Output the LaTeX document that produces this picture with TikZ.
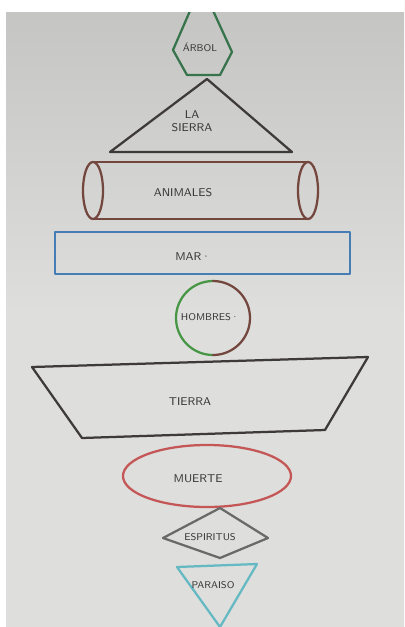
\documentclass[tikz,border=0pt]{standalone}
\usepackage{tikz}
\usepackage{xcolor}

\definecolor{paperdark}{RGB}{196,196,194}
\definecolor{paperlight}{RGB}{222,222,220}
\definecolor{pengreen}{RGB}{55,115,75}
\definecolor{pencircle}{RGB}{70,150,70}
\definecolor{penbrown}{RGB}{115,70,62}
\definecolor{penblue}{RGB}{70,125,180}
\definecolor{penred}{RGB}{196,86,86}
\definecolor{pengray}{RGB}{105,105,105}
\definecolor{pendark}{RGB}{62,58,58}
\definecolor{penteal}{RGB}{100,185,195}
\definecolor{pencil}{RGB}{55,55,55}

\tikzset{
	marker/.style={line width=1.6pt, line join=round, line cap=round},
	word/.style={font=\sffamily\footnotesize, text=pencil, inner sep=1pt},
	smallword/.style={word, font=\sffamily\scriptsize}
}

\begin{document}
\begin{tikzpicture}[x=0.025cm, y=-0.025cm]
	\useasboundingbox (0,0) rectangle (404,627);
	\shade [top color=paperdark, bottom color=paperlight, middle color=paperlight] (0,0) rectangle (404,627);
	
	% arbol
	\draw [marker, pengreen] (173,50) -- (193,4) -- (210,4) -- (232,52) -- (220,75) -- (187,75) -- cycle;
	\fill [white] (0,0) rectangle (404,12);
	\fill [white] (0,0) rectangle (6,627);
	
	% la sierra
	\draw [marker, pendark] (207,79) -- (292,152) -- (110,152) -- cycle;
	
	% animales
	\draw [marker, penbrown] (93,162) -- (308,162);
	\draw [marker, penbrown] (93,219) -- (308,219);
	\draw [marker, penbrown] (93,190.5) ellipse [x radius=10, y radius=28.5];
	\draw [marker, penbrown] (308,190.5) ellipse [x radius=10, y radius=28.5];
	
	% mar
	\draw [marker, penblue] (55,232) rectangle (350,274);
	
	% hombres
	\draw [marker, pencircle] (213,355) arc [start angle=90, end angle=270, radius=37];
	\draw [marker, penbrown] (213,281) arc [start angle=-90, end angle=90, radius=37];
	
	% tierra
	\draw [marker, pendark] (32,367) -- (368,357) -- (325,430) -- (82,438) -- cycle;
	
	% muerte
	\draw [marker, penred] (207,476) ellipse [x radius=84, y radius=31];
	
	% espiritus
	\draw [marker, pengray] (220,508) -- (268,538) -- (220,558) -- (163,538) -- cycle;
	
	% paraiso
	\draw [marker, penteal] (177,567) -- (257,564) -- (220,627) -- cycle;
	
	\foreach \x/\y/\id/\txt in {
		200/47/arbol/ÁRBOL,
		210/317/hombres/HOMBRES·,
		210/537/espiritus/ESPIRITUS,
		213/585/paraiso/PARAISO
	}
	{
		\node [smallword] (\id) at (\x,\y) {\txt};
	}
	\foreach \x/\y/\id/\txt in {
		192/121/sierra/{LA\\SIERRA},
		183/193/animales/ANIMALES,
		193/257/mar/MAR·,
		190/402/tierra/TIERRA,
		200/479/muerte/MUERTE
	}
	{
		\node [word, align=center] (\id) at (\x,\y) {\txt};
	}
\end{tikzpicture}
\end{document}
